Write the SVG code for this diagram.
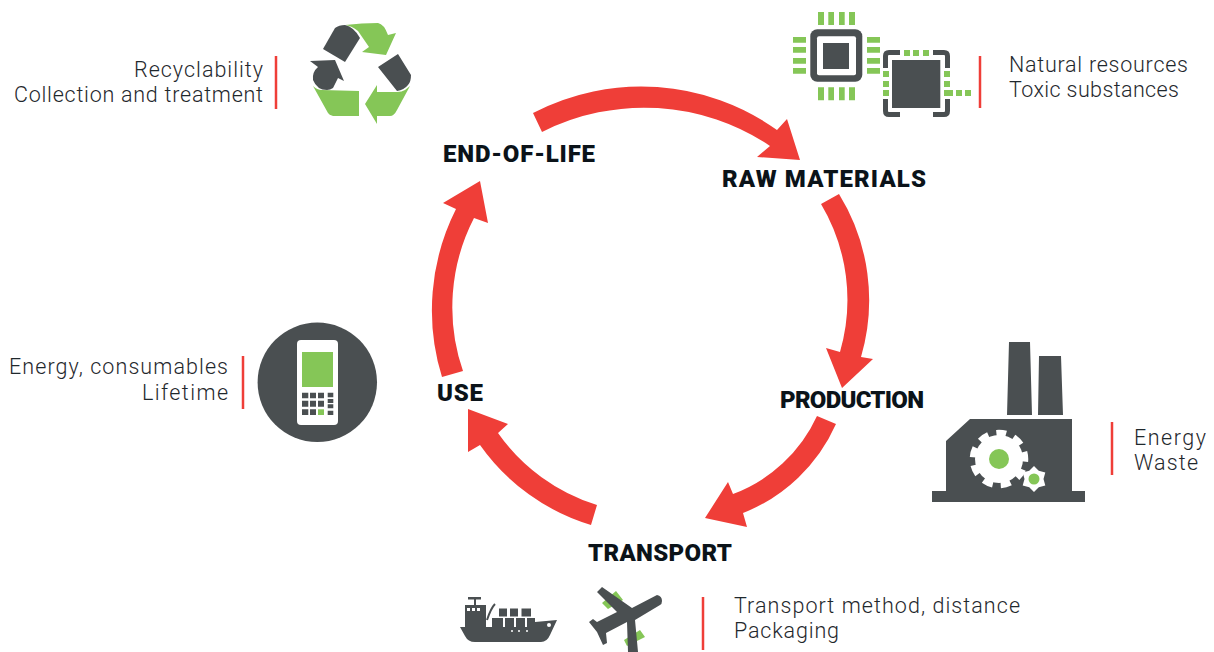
<svg xmlns="http://www.w3.org/2000/svg" width="1214" height="652" viewBox="0 0 1214 652">
<style>
.t{font-family:"Roboto","Noto Sans",sans-serif;font-weight:300;font-size:21.5px;fill:#1f282d}
.e{text-anchor:end}
.l{font-family:"Roboto","Noto Sans",sans-serif;font-weight:900;font-size:24px;fill:#0b1319}
.d{fill:#4a4f51}
.g{fill:#85c657}
.w{fill:#fff}
.a{fill:#ef3e38}
.r{stroke:#ef3e38;stroke-width:2.5;fill:none}
</style>
<rect width="1214" height="652" fill="#fff"/>
<g id="connectors">
<path class="a" d="M533,113A234,234 0 0 1 777,130L787,119L800,160L757,157L770,146A226,226 0 0 0 542,132Z"/>
<path class="a" d="M839,194A202,202 0 0 1 861,357L873,359L842,388L826,348L840,352A187,187 0 0 0 821,204Z"/>
<path class="a" d="M836,424A170,170 0 0 1 743,513L747,527L705,518L728,482L733,494A150,150 0 0 0 817,416Z"/>
<path class="a" d="M597,505A190,190 0 0 1 498,433L508,424L468,409L468,452L480,445A210,210 0 0 0 591,525Z"/>
<path class="a" d="M442,377A225,225 0 0 1 456,209L443,203L480,181L488,223L474,218A195,195 0 0 0 463,371Z"/>
</g>
<g id="end-of-life">
<text class="l" x="443" y="162" textLength="152">END-OF-LIFE</text>
</g>
<g id="raw-materials">
<text class="l" x="722" y="187" textLength="204">RAW MATERIALS</text>
</g>
<g id="production">
<text class="l" x="780" y="408" textLength="144">PRODUCTION</text>
</g>
<g id="transport">
<text class="l" x="588" y="561" textLength="144">TRANSPORT</text>
</g>
<g id="use">
<text class="l" x="437" y="401" textLength="46">USE</text>
</g>
<g id="recycle-note">
<text class="t e" x="263" y="77" textLength="129">Recyclability</text>
<text class="t e" x="263" y="102" textLength="249">Collection and treatment</text>
<path class="r" d="M276,56V109"/>
<g id="recycle-icon">
<path class="g" d="M345,25Q362,23 378,23Q384,24 388,35L396,33L386,55L362,52L369,47L358,31Q352,26 345,25Z"/>
<path class="d" d="M323,49L335,28Q339,25 345,25Q354,27 360,38L345,62Z"/>
<path class="d" d="M310,61L335,60L344,81L338,78L333,88Q330,90 327,90Q317,90 313,80Q312,72 318,67Z"/>
<path class="g" d="M313,86Q317,90 322,90L359,91V116H333Q329,115 328,113Z"/>
<path class="d" d="M378,67L398,54L411,75Q411,82 408,85Q404,90 397,91Z"/>
<path class="g" d="M410,86L397,110Q394,116 390,116H377V124L365,104L377,85V92H397Q402,92 405,90Z"/>
</g>
</g>
<g id="materials-note">
<text class="t" x="1009" y="72" textLength="179">Natural resources</text>
<text class="t" x="1009" y="97" textLength="170">Toxic substances</text>
<path class="r" d="M980,56V108"/>
<g id="chip-icon">
<rect class="d" x="810.3" y="29.3" width="52" height="52.4" rx="7"/>
<rect class="w" x="817" y="36.3" width="39" height="39" rx="2"/>
<rect class="d" x="823" y="43" width="26" height="26"/>
<path class="g" d="M818,12h6v13h-6zM828.3,12h5.7v13h-5.7zM839,12h5.7v13h-5.7zM849,12h6v13h-6zM818,87.3h6v13h-6zM828.3,87.3h5.7v13h-5.7zM839,87.3h5.7v13h-5.7zM849,87.3h6v13h-6zM793,37h13v5.7h-13zM793,47h13v5.7h-13zM793,58h13v5.7h-13zM793,68h13v5.7h-13zM867,37h13v5.7h-13zM867,47h13v5.7h-13zM867,58h13v5.7h-13zM867,68h13v5.7h-13z"/>
<rect class="d" x="892" y="60" width="48.3" height="48"/>
<path d="M885.5,68V56Q885.5,52.500 889,52.500H900M933,52.500H944Q947.500,52.500 947.500,56V68M947.500,99V111Q947.500,114.500 944,114.500H933M900,114.500H889Q885.500,114.500 885.500,111V99" fill="none" stroke="#4a4f51" stroke-width="5"/>
<path class="g" d="M904,50h6v6h-6zM913,50h6v6h-6zM923,50h6v6h-6zM883,71h6v6h-6zM883,81h6v6h-6zM883,90h6v6h-6zM944,71h6v6h-6zM944,81h6v6h-6zM944,90h9v6h-9zM956,90h6v6h-6zM965,90h6v6h-6z"/>
</g>
</g>
<g id="production-note">
<text class="t" x="1134" y="445" textLength="72">Energy</text>
<text class="t" x="1134" y="470" textLength="64">Waste</text>
<path class="r" d="M1112,422V475"/>
<g id="factory-icon">
<path class="d" d="M1009,342H1030L1032,415H1007ZM1039,356H1061L1063,415H1038ZM970,419H1072V491H1085V502H932V491H946V441Z"/>
<circle class="w" cx="999" cy="459" r="24"/>
<circle cx="999" cy="459" r="26" fill="none" stroke="#fff" stroke-width="6.500" pathLength="18" stroke-dasharray="1.100 0.900" stroke-dashoffset="0.800"/>
<circle class="g" cx="999" cy="459" r="10"/>
<path class="w" d="M1034,466L1038.750,470.800L1045.300,472.500L1043.500,479L1045.300,485.500L1038.750,487.200L1034,492L1029.250,487.200L1022.700,485.500L1024.500,479L1022.700,472.500L1029.250,470.800Z"/>
<circle class="g" cx="1034" cy="479" r="5.500"/>
</g>
</g>
<g id="use-note">
<text class="t e" x="228" y="374" textLength="219">Energy, consumables</text>
<text class="t e" x="228" y="400" textLength="86">Lifetime</text>
<path class="r" d="M243,356V409"/>
<g id="phone-icon">
<circle class="d" cx="317.300" cy="382.300" r="59.700"/>
<rect class="w" x="297" y="340" width="41" height="85" rx="4"/>
<rect class="g" x="302" y="352" width="31" height="35"/>
<path class="d" d="M302,392.700h6.300v5.600h-6.300zM310,392.700h6v5.600h-6zM318,392.700h6v5.600h-6zM302,400.700h6.300v6h-6.300zM310,400.700h6v6h-6zM318,400.700h6v6h-6zM302,409.300h6.300v5.700h-6.300zM310,409.300h6v5.700h-6zM327.700,392.700h5.600v4.600h-5.600zM327.700,399h5.600v4h-5.600zM327.700,404.300h5.600v4h-5.600zM327.700,410.700h5.600v4.300h-5.600z"/>
<rect class="g" x="318" y="409.300" width="6" height="5.700"/>
</g>
</g>
<g id="transport-note">
<text class="t" x="734" y="613" textLength="286">Transport method, distance</text>
<text class="t" x="734" y="638" textLength="105">Packaging</text>
<path class="r" d="M703,597V650"/>
<g id="ship-icon">
<path class="d" d="M460,627H533L535,622L557,620L550,635Q547,642 541,642H475Q468,642 465,636Z"/>
<path class="d" d="M465,605H486V627H465ZM468,597H481V599.500H468ZM474,597H476V605H474Z"/>
<path class="d" d="M499,608.500h8v8h-8zM510,608.500h8v8h-8zM521.500,608.500h9.500v8h-9.500zM492,618h11v9h-11zM505,618h9v9h-9zM516,618h9v9h-9zM527,618h8v9h-8z"/>
<path d="M487,620Q491,608 495,604" fill="none" stroke="#4a4f51" stroke-width="2"/>
<path class="w" d="M467,608h3v3h-3zM472,608h3v3h-3zM477,608h3v3h-3z"/>
<circle class="w" cx="549" cy="625" r="2"/>
<circle class="w" cx="512" cy="631" r="1"/>
<circle class="w" cx="519" cy="631" r="1"/>
<circle class="w" cx="527" cy="631" r="1"/>
</g>
<g id="plane-icon">
<path class="g" d="M616,591L623,600L608,609L602,603ZM640,630L645,637L627,646L624,640Z"/>
<path class="d" d="M657,595Q662,596 662,601Q662,604 660,605L635,620L638,652H628L627,622L606,633L607,643L603,645L597,632L589,622L593,619L597,622L617,612L597,592L602,587L632,608Z"/>
</g>
</g>
</svg>
